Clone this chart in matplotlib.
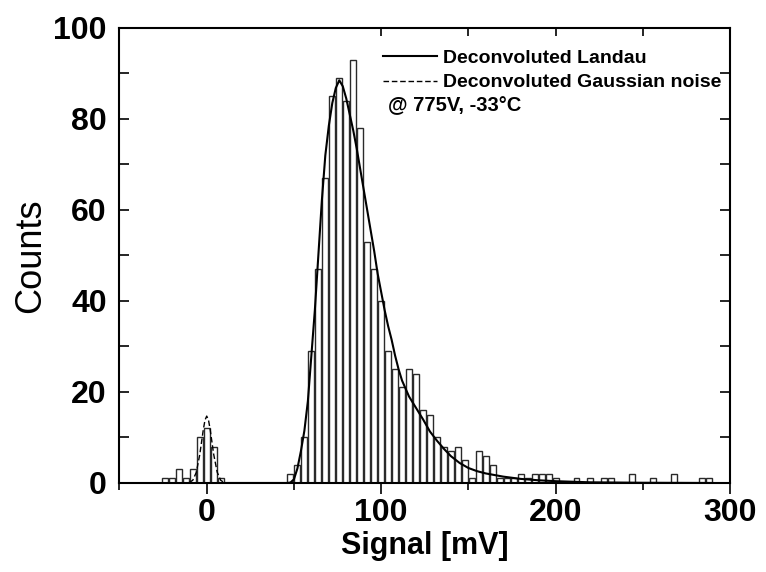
import numpy as np
import matplotlib
matplotlib.use("Agg")
import matplotlib.pyplot as plt

plt.rcParams["font.family"] = ["Liberation Sans", "DejaVu Sans"]

# histogram: bin centres (mV) and counts, 4 mV bins
bin_centers = np.arange(-24, 292, 4)
counts = [
    1, 1, 3, 1, 3, 10, 12, 8, 1,                     # -24 .. 8
    0, 0, 0, 0, 0, 0, 0, 0, 0,                       # 12 .. 44
    2, 4, 10, 29, 47, 67, 85, 89, 84, 93,            # 48 .. 84
    78, 53, 47, 40, 29, 25, 21, 25, 24, 16,          # 88 .. 124
    15, 10, 8, 7, 8, 5, 1, 7, 6, 4,                  # 128 .. 164
    1, 1, 1, 2, 1, 2, 2, 2, 1, 0,                    # 168 .. 204
    0, 1, 0, 1, 0, 1, 1, 0, 0, 2,                    # 208 .. 244
    0, 0, 1, 0, 0, 2, 0, 0, 0, 1, 1,                 # 248 .. 288
]

# deconvoluted Landau
landau_x = [10, 46, 48, 50, 52, 54, 56, 58, 60, 62, 64, 66, 68, 70, 72, 74, 76,
            78, 80, 82, 84, 86, 88, 90, 92, 94, 96, 98, 100, 102, 104, 106, 108,
            110, 112, 116, 120, 124, 128, 132, 136, 140, 145, 150, 155, 160, 170,
            180, 190, 200, 220, 250, 290]
landau_y = [0, 0, 0.1, 0.8, 3.2, 7, 11.5, 18, 28, 38, 50, 62, 72, 78.5, 83.5,
            86.8, 88.5, 87.2, 84.5, 81, 77.5, 73.5, 69, 64.5, 60, 55.5, 51, 46,
            42, 38, 34.5, 31.5, 28, 25, 22.5, 19, 16.5, 14, 11.3, 9.3, 7.5, 5.9,
            4.4, 3.3, 2.6, 2.1, 1.4, 0.9, 0.6, 0.4, 0.15, 0.05, 0]

# deconvoluted Gaussian noise
noise_x = [-10, -8, -6, -4, -3, -2, -1, 0, 1, 2, 3, 4, 6, 8, 10]
noise_y = [0.1, 0.6, 2.3, 6.2, 8.9, 11.6, 13.8, 14.7, 13.9, 11.7, 9, 6.3, 2.4, 0.6, 0.1]

fig = plt.figure(figsize=(7.66, 5.72), dpi=100)
ax = fig.add_axes([0.156, 0.1556, 0.797, 0.7955])

ax.bar(bin_centers, counts, width=3.4, color="white", edgecolor="#2a2a2a",
       linewidth=1.0, zorder=2)
ax.plot(landau_x, landau_y, color="black", lw=1.5, zorder=3,
        label="Deconvoluted Landau")
ax.plot(noise_x, noise_y, color="black", lw=1.0, ls=(0, (4, 2)), zorder=3,
        label="Deconvoluted Gaussian noise")

ax.set_xlim(-50, 300)
ax.set_ylim(0, 100)
ax.set_xticks([0, 100, 200, 300])
ax.set_xticks([-50, 50, 150, 250], minor=True)
ax.set_yticks([0, 20, 40, 60, 80, 100])
ax.set_yticks([10, 30, 50, 70, 90], minor=True)

ax.tick_params(axis="x", which="both", direction="out", top=False, pad=3)
ax.tick_params(axis="x", which="major", length=8, width=1.2)
ax.tick_params(axis="x", which="minor", length=5, width=1.2)
ax.tick_params(axis="y", which="both", direction="in", right=True,
               length=7, width=1.2, pad=9)
sec = ax.secondary_xaxis("top")
sec.set_xticks([100, 200])
sec.set_xticks([150, 250], minor=True)
sec.tick_params(which="both", direction="in", length=6, width=1.2,
                labeltop=False)
sec.spines["top"].set_visible(False)

for lab in ax.get_xticklabels() + ax.get_yticklabels():
    lab.set_fontsize(23)
    lab.set_fontweight("bold")
for sp in ax.spines.values():
    sp.set_linewidth(1.5)

ax.set_xlabel("Signal [mV]", fontsize=22, fontweight="bold", labelpad=2)
ax.set_ylabel("Counts", fontsize=26, labelpad=4)

ax.legend(loc="upper left", bbox_to_anchor=(0.431, 0.953), frameon=False,
          prop={"size": 14, "weight": "bold"}, handlelength=2.8,
          handletextpad=0.3, labelspacing=0.35, borderpad=0, borderaxespad=0)
ax.text(0.44, 0.829, "@ 775V, -33°C", transform=ax.transAxes, fontsize=14.5,
        fontweight="bold", va="center", ha="left")

fig.savefig("out.png", dpi=100)
